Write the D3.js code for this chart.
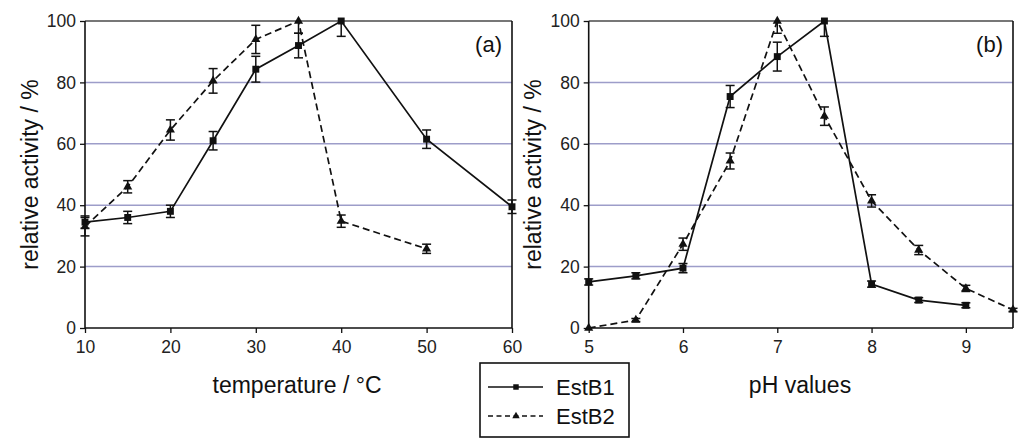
<!DOCTYPE html>
<html>
<head>
<meta charset="utf-8">
<script src="https://cdn.jsdelivr.net/npm/d3@7"></script>
<style>
  html, body { margin: 0; padding: 0; background: #fff; }
  svg { display: block; font-family: "Liberation Sans", Arial, sans-serif; }
</style>
</head>
<body>
<svg id="chart" width="1026" height="446"></svg>
<script>
// Temperature profile (panel a)
const tempC = [10, 15, 20, 25, 30, 35, 40, 50, 60];
const tempEstB1 = [34.5, 36, 38, 61, 84.3, 92, 100, 61.5, 39.5];
const tempEstB1Err = [2, 2, 2, 3, 4.2, 4, 5, 3, 2.2];
const tempC2 = [10, 15, 20, 25, 30, 35, 40, 50];
const tempEstB2 = [33, 46, 64.5, 80.5, 94, 100, 34.8, 25.8];
const tempEstB2Err = [3, 2, 3.3, 4, 4.6, 4, 2, 1.5];
const tempTicks = [10, 20, 30, 40, 50, 60];

// pH profile (panel b)
const pH1 = [5, 5.5, 6, 6.5, 7, 7.5, 8, 8.5, 9];
const phEstB1 = [15, 17, 19.5, 75.4, 88.4, 100, 14.3, 9.1, 7.4];
const phEstB1Err = [1, 1, 1.5, 3.6, 4.7, 5, 1, 0.8, 0.8];
const pH2 = [5, 5.5, 6, 6.5, 7, 7.5, 8, 8.5, 9, 9.5];
const phEstB2 = [0, 2.6, 27.3, 54.4, 100, 69, 41.4, 25.4, 12.9, 5.9];
const phEstB2Err = [0, 0.5, 2, 2.6, 4, 3, 2, 1.5, 1, 0.5];
const pHTicks = [5, 6, 7, 8, 9];

const yTicks = [0, 20, 40, 60, 80, 100];
const gridValues = [20, 40, 60, 80];
const seriesNames = ["EstB1", "EstB2"];

const svg = d3.select("#chart");

function drawPanel(opts) {
  const x = d3.scaleLinear().domain(opts.xDomain).range(opts.xRange);
  const y = d3.scaleLinear().domain([0, 100]).range([328, 21]);
  const g = svg.append("g");
  const [x0, x1] = opts.xRange;

  // horizontal gridlines
  g.selectAll("line.grid").data(gridValues).join("line")
    .attr("x1", x0).attr("x2", x1)
    .attr("y1", d => y(d)).attr("y2", d => y(d))
    .attr("stroke", "#9d9dc9").attr("stroke-width", 1.5);

  // top frame (at 100) and right frame
  g.append("line").attr("x1", x0).attr("x2", x1)
    .attr("y1", y(100)).attr("y2", y(100))
    .attr("stroke", "#4a4a4a").attr("stroke-width", 1.6);
  g.append("line").attr("x1", x1).attr("x2", x1)
    .attr("y1", y(100)).attr("y2", y(0))
    .attr("stroke", "#111").attr("stroke-width", 1.6);

  // axes
  const yAxis = d3.axisLeft(y).tickValues(yTicks).tickSize(5).tickPadding(4)
    .tickFormat(d3.format("d"));
  const gy = g.append("g").attr("transform", `translate(${x0},0)`).call(yAxis);
  const xAxis = d3.axisBottom(x).tickValues(opts.xTicks).tickSize(5).tickPadding(8)
    .tickFormat(d3.format("d"));
  const gx = g.append("g").attr("transform", `translate(0,${y(0)})`).call(xAxis);
  [gx, gy].forEach(ax => {
    ax.attr("font-size", null).attr("font-family", null);
    ax.select(".domain").attr("stroke", "#111").attr("stroke-width", 1.6);
    ax.selectAll(".tick line").attr("stroke", "#111").attr("stroke-width", 1.3);
    ax.selectAll(".tick text").attr("fill", "#222")
      .style("font-size", "17.5px");
  });
  gx.select(".domain").attr("d", `M${x0},0H${x1}`);
  gy.select(".domain").attr("d", `M0,${y(0)}V${y(100)}`);

  // series
  opts.series.forEach((s, i) => {
    const pts = s.x.map((xv, j) => ({ x: xv, y: s.y[j], e: s.err[j] }));
    const line = d3.line().x(d => x(d.x)).y(d => y(d.y));
    g.append("path").datum(pts).attr("d", line)
      .attr("fill", "none").attr("stroke", "#111").attr("stroke-width", 1.7)
      .attr("stroke-dasharray", i === 1 ? "7,4" : null);

    // error bars, kept inside the 0–100 frame
    const eb = g.append("g").attr("stroke", "#111").attr("stroke-width", 1.5);
    pts.filter(d => d.e > 0).forEach(d => {
      const cx = x(d.x);
      const lo = y(Math.max(0, d.y - d.e));
      const hi = y(Math.min(100, d.y + d.e));
      eb.append("line").attr("x1", cx).attr("x2", cx).attr("y1", lo).attr("y2", hi);
      if (d.y - d.e >= 0)
        eb.append("line").attr("x1", cx - 4.5).attr("x2", cx + 4.5).attr("y1", lo).attr("y2", lo);
      if (d.y + d.e <= 100)
        eb.append("line").attr("x1", cx - 4.5).attr("x2", cx + 4.5).attr("y1", hi).attr("y2", hi);
    });

    // markers
    const sym = d3.symbol().type(i === 0 ? d3.symbolSquare : d3.symbolTriangle)
      .size(i === 0 ? 48 : 36);
    g.selectAll(null).data(pts).join("path")
      .attr("d", sym)
      .attr("transform", d => `translate(${x(d.x)},${y(d.y)})`)
      .attr("fill", "#111");
  });

  // panel label
  g.append("text").attr("x", x1 - 10).attr("y", 52)
    .attr("text-anchor", "end").attr("fill", "#111")
    .style("font-size", "22px").text(opts.label);

  // axis titles
  g.append("text").attr("x", opts.xTitleX).attr("y", 393)
    .attr("text-anchor", "middle").attr("fill", "#111")
    .style("font-size", "23px").text(opts.xTitle);
  g.append("text")
    .attr("transform", `translate(${opts.yTitleX},174.5) rotate(-90)`)
    .attr("text-anchor", "middle").attr("dy", "0.35em").attr("fill", "#111")
    .style("font-size", "23px").text("relative activity / %");
}

drawPanel({
  xDomain: [10, 60], xRange: [85, 512], xTicks: tempTicks,
  label: "(a)", xTitle: "temperature / °C", xTitleX: 297, yTitleX: 30,
  series: [
    { x: tempC, y: tempEstB1, err: tempEstB1Err },
    { x: tempC2, y: tempEstB2, err: tempEstB2Err }
  ]
});

drawPanel({
  xDomain: [5, 9.5], xRange: [588.7, 1013], xTicks: pHTicks,
  label: "(b)", xTitle: "pH values", xTitleX: 800, yTitleX: 533,
  series: [
    { x: pH1, y: phEstB1, err: phEstB1Err },
    { x: pH2, y: phEstB2, err: phEstB2Err }
  ]
});

// legend
const lg = svg.append("g");
lg.append("rect").attr("x", 480).attr("y", 363).attr("width", 149).attr("height", 74)
  .attr("fill", "#fff").attr("stroke", "#111").attr("stroke-width", 1.6);
seriesNames.forEach((name, i) => {
  const ly = 387 + i * 29;
  lg.append("line").attr("x1", 488).attr("x2", 543).attr("y1", ly).attr("y2", ly)
    .attr("stroke", "#111").attr("stroke-width", 1.6)
    .attr("stroke-dasharray", i === 1 ? "5,3.5" : null);
  lg.append("path")
    .attr("d", d3.symbol().type(i === 0 ? d3.symbolSquare : d3.symbolTriangle).size(i === 0 ? 30 : 24))
    .attr("transform", `translate(516,${ly})`).attr("fill", "#111");
  lg.append("text").attr("x", 556).attr("y", ly).attr("dy", "0.35em")
    .attr("fill", "#111").style("font-size", "22px").text(name);
});
</script>
</body>
</html>
